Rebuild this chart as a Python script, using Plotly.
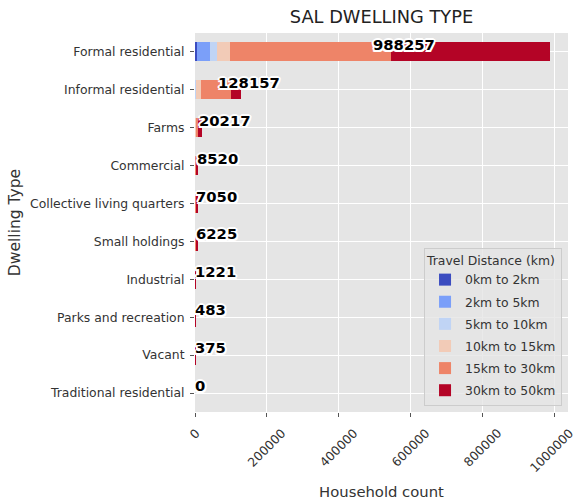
import plotly.graph_objects as go

categories = ["Formal residential", "Informal residential", "Farms", "Commercial",
              "Collective living quarters", "Small holdings", "Industrial",
              "Parks and recreation", "Vacant", "Traditional residential"]
series_names = ["0km to 2km", "2km to 5km", "5km to 10km", "10km to 15km",
                "15km to 30km", "30km to 50km"]
d_0_2 = [5200, 200, 100, 50, 100, 50, 50, 20, 10, 0]
d_2_5 = [35300, 400, 200, 150, 200, 100, 120, 50, 30, 0]
d_5_10 = [20500, 1200, 417, 300, 350, 200, 200, 80, 60, 0]
d_10_15 = [36900, 15000, 1500, 500, 600, 700, 200, 90, 75, 0]
d_15_30 = [448400, 83300, 7000, 1500, 2200, 4000, 400, 150, 120, 0]
d_30_50 = [441957, 28057, 11000, 6020, 3600, 1175, 251, 93, 80, 0]
totals = [988257, 128157, 20217, 8520, 7050, 6225, 1221, 483, 375, 0]
x_ticks = [0, 200000, 400000, 600000, 800000, 1000000]
x_tick_labels = ["0", "200000", "400000", "600000", "800000", "1000000"]

colors = ["#3b4cc0", "#7b9ff9", "#c0d4f5", "#f2cbb7", "#ee8468", "#b40426"]
series = [d_0_2, d_2_5, d_5_10, d_10_15, d_15_30, d_30_50]

fig = go.Figure()
for name, vals, col in zip(series_names, series, colors):
    fig.add_trace(go.Bar(y=categories, x=vals, name=name, orientation="h",
                         width=0.5, legendgroup=name,
                         marker=dict(color=col, line=dict(width=0))))

sh = ", ".join(f"{a}px {b}px 0 #ffffff" for a, b in
               [(-1.5, -1.5), (1.5, -1.5), (-1.5, 1.5), (1.5, 1.5),
                (0, 2), (0, -2), (2, 0), (-2, 0)])
for cat, tot in zip(categories, totals):
    fig.add_annotation(x=tot / 2, y=cat, xref="x", yref="y", text=str(tot),
                       showarrow=False, xanchor="left", yanchor="bottom",
                       yshift=-3, xshift=-2,
                       font=dict(family="DejaVu Sans", size=14.8, color="black",
                                 weight="bold", shadow=sh))

# rotated x tick labels, centred on their ticks (matplotlib style)
for i, (tv, tl) in enumerate(zip(x_ticks, x_tick_labels)):
    fig.add_annotation(x=tv, y=0, xref="x", yref="paper", text=tl,
                       showarrow=False, textangle=-45, xanchor="center",
                       yanchor="top", yshift=-11,
                       xshift=-3 if i == len(x_ticks) - 1 else 0,
                       font=dict(size=12.4, color="#333333"))

fig.update_layout(
    width=576, height=504,
    barmode="stack",
    paper_bgcolor="white", plot_bgcolor="#E5E5E5",
    margin=dict(l=195, r=8, t=33, b=92),
    font=dict(family="DejaVu Sans", size=12.4, color="#333333"),
    title=dict(text="SAL DWELLING TYPE", x=381.5 / 576, xanchor="center",
               y=1 - 16.5 / 504, yanchor="middle",
               font=dict(size=17.8, color="#222222")),
    legend=dict(title=dict(text="Travel Distance (km)", font=dict(size=12.4)),
                x=0.984, y=0.016, xanchor="right", yanchor="bottom",
                bgcolor="rgba(229,229,229,0.8)", bordercolor="#cccccc",
                borderwidth=1, font=dict(size=12.4), traceorder="grouped",
                tracegroupgap=3),
)
fig.update_xaxes(range=[0, 1037670], tickvals=x_ticks, showticklabels=False,
                 ticks="outside", ticklen=4, tickcolor="#555555",
                 showgrid=True, gridcolor="white", gridwidth=1, zeroline=False,
                 title=dict(text="Household count", font=dict(size=14.8),
                            standoff=70),
                 showline=False, automargin=False)
fig.update_yaxes(categoryorder="array", categoryarray=categories[::-1],
                 range=[-0.5, 9.5], ticks="outside", ticklen=4,
                 tickcolor="#555555", showgrid=True, gridcolor="white",
                 ticklabelstandoff=3,
                 title=dict(text="Dwelling Type", font=dict(size=15.5),
                            standoff=5),
                 automargin=False, showline=False)

fig.write_html("out.html", post_script="document.body.style.margin='0';",
               config={"displayModeBar": False})
